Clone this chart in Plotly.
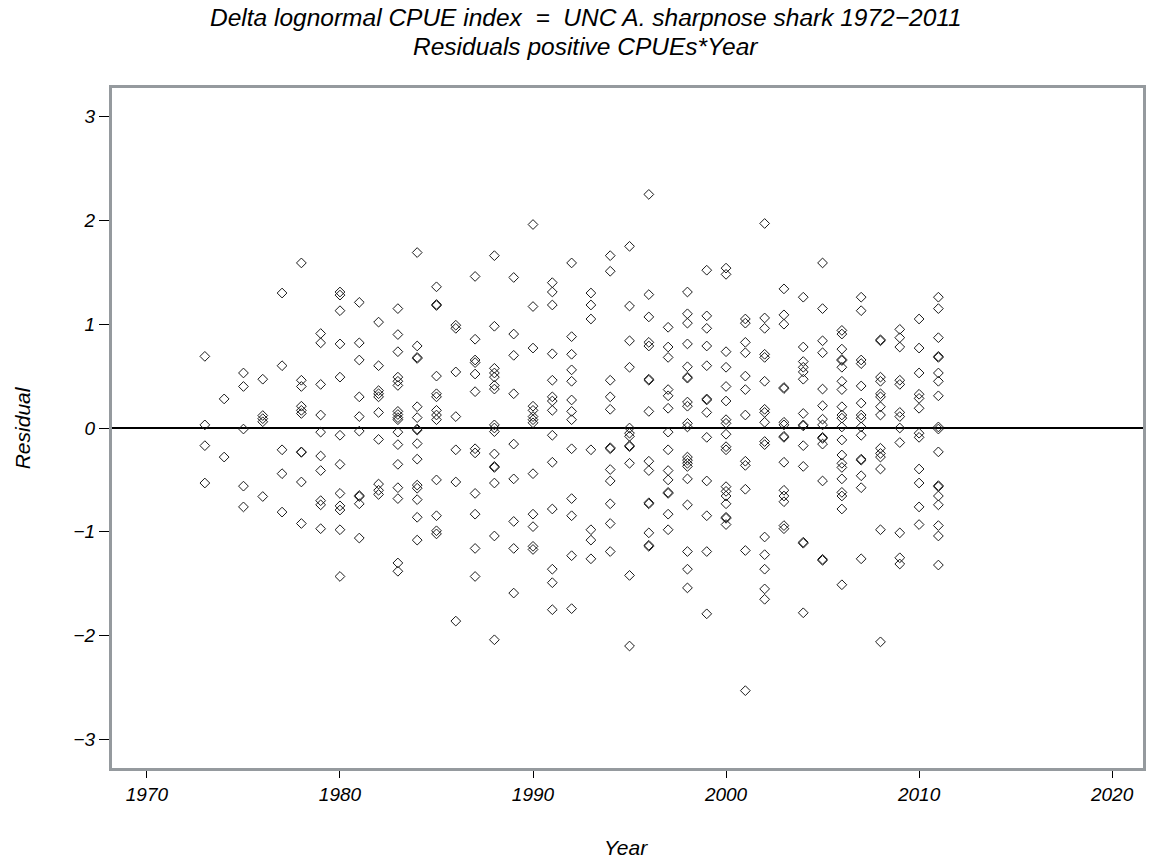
import plotly.graph_objects as go

# Residuals of positive CPUEs by year
years = list(range(1973, 2012))

r1973 = [0.69, 0.03, -0.17, -0.53]
r1974 = [0.28, -0.28]
r1975 = [0.53, 0.40, -0.01, -0.56, -0.76]
r1976 = [0.47, 0.12, 0.09, 0.06, -0.66]
r1977 = [1.30, 0.60, -0.21, -0.44, -0.81]
r1978 = [1.59, 0.46, 0.40, 0.21, 0.17, 0.14, -0.23, -0.235, -0.52, -0.92]
r1979 = [0.91, 0.82, 0.42, 0.125, -0.04, -0.27, -0.41, -0.70, -0.74, -0.97]
r1980 = [1.31, 1.28, 1.13, 0.81, 0.49, -0.07, -0.35, -0.63, -0.75, -0.79, -0.98, -1.43]
r1981 = [1.21, 0.82, 0.655, 0.30, 0.11, -0.03, -0.65, -0.66, -0.73, -1.06]
r1982 = [1.02, 0.60, 0.36, 0.33, 0.30, 0.15, -0.11, -0.54, -0.60, -0.64]
r1983 = [1.15, 0.90, 0.735, 0.49, 0.45, 0.41, 0.16, 0.13, 0.10, 0.08, -0.04, -0.16,
         -0.35, -0.575, -0.68, -1.30, -1.38]
r1984 = [1.69, 0.79, 0.68, 0.67, 0.205, 0.10, -0.01, -0.02, -0.15, -0.30, -0.55,
         -0.58, -0.69, -0.86, -1.08]
r1985 = [1.36, 1.18, 1.19, 0.50, 0.33, 0.30, 0.17, 0.125, 0.08, -0.50, -0.845, -0.99, -1.02]
r1986 = [0.99, 0.96, 0.54, 0.11, -0.21, -0.52, -1.86]
r1987 = [1.46, 0.855, 0.655, 0.63, 0.52, 0.35, -0.20, -0.24, -0.63, -0.83, -1.16, -1.43]
r1988 = [1.66, 0.98, 0.575, 0.53, 0.49, 0.41, 0.375, 0.03, 0.0, -0.035, -0.25, -0.37,
         -0.38, -0.53, -1.04, -2.04]
r1989 = [1.45, 0.905, 0.70, 0.33, -0.155, -0.49, -0.90, -1.16, -1.59]
r1990 = [1.96, 1.17, 0.77, 0.21, 0.17, 0.11, 0.08, 0.05, -0.44, -0.83, -0.95, -1.14, -1.17]
r1991 = [1.40, 1.31, 1.185, 0.715, 0.46, 0.30, 0.26, 0.17, -0.07, -0.33, -0.78, -1.36,
         -1.49, -1.75]
r1992 = [1.59, 0.88, 0.71, 0.56, 0.45, 0.27, 0.16, 0.08, -0.20, -0.68, -0.845, -1.23, -1.74]
r1993 = [1.30, 1.185, 1.05, -0.21, -0.98, -1.08, -1.26]
r1994 = [1.66, 1.51, 0.46, 0.30, 0.18, -0.19, -0.20, -0.40, -0.51, -0.73, -0.92, -1.19]
r1995 = [1.75, 1.175, 0.84, 0.585, 0.0, -0.05, -0.08, -0.17, -0.18, -0.34, -1.42, -2.10]
r1996 = [2.25, 1.285, 1.07, 0.825, 0.79, 0.46, 0.47, 0.16, -0.32, -0.41, -0.72, -0.73,
         -1.01, -1.13, -1.14]
r1997 = [0.97, 0.78, 0.68, 0.37, 0.31, 0.19, -0.04, -0.21, -0.41, -0.50, -0.62, -0.63,
         -0.83, -0.98]
r1998 = [1.31, 1.10, 1.01, 0.81, 0.59, 0.48, 0.49, 0.25, 0.21, 0.045, 0.01, -0.28, -0.31,
         -0.34, -0.37, -0.49, -0.74, -1.19, -1.36, -1.54]
r1999 = [1.52, 1.08, 0.96, 0.79, 0.60, 0.28, 0.27, 0.15, -0.09, -0.51, -0.845, -1.19, -1.79]
r2000 = [1.54, 1.48, 0.735, 0.585, 0.40, 0.26, 0.08, 0.045, -0.06, -0.18, -0.21, -0.565,
         -0.61, -0.655, -0.73, -0.86, -0.87, -0.93]
r2001 = [1.05, 1.01, 0.825, 0.725, 0.50, 0.37, 0.125, -0.32, -0.36, -0.59, -1.18, -2.53]
r2002 = [1.97, 1.06, 0.96, 0.71, 0.68, 0.45, 0.18, 0.15, 0.055, -0.13, -0.16, -1.05,
         -1.22, -1.36, -1.55, -1.65]
r2003 = [1.34, 1.09, 1.00, 0.38, 0.39, 0.055, 0.03, -0.08, -0.09, -0.33, -0.60, -0.655,
         -0.71, -0.94, -0.97]
r2004 = [1.26, 0.78, 0.64, 0.585, 0.54, 0.47, 0.14, 0.02, 0.03, -0.17, -0.37, -1.10,
         -1.11, -1.78]
r2005 = [1.59, 1.15, 0.84, 0.725, 0.375, 0.215, 0.085, 0.03, -0.09, -0.10, -0.155,
         -0.51, -1.265, -1.275]
r2006 = [0.94, 0.905, 0.76, 0.65, 0.66, 0.585, 0.45, 0.37, 0.205, 0.125, 0.095, 0.01,
         -0.115, -0.26, -0.34, -0.38, -0.49, -0.62, -0.655, -0.78, -1.51]
r2007 = [1.26, 1.13, 0.655, 0.62, 0.405, 0.24, 0.125, 0.095, 0.01, -0.07, -0.30, -0.31,
         -0.46, -0.575, -1.26]
r2008 = [0.84, 0.85, 0.49, 0.45, 0.33, 0.30, 0.205, 0.125, -0.195, -0.245, -0.28,
         -0.395, -0.98, -2.06]
r2009 = [0.95, 0.87, 0.78, 0.46, 0.42, 0.15, 0.11, 0.0, -0.14, -1.01, -1.25, -1.31]
r2010 = [1.05, 0.77, 0.53, 0.325, 0.285, 0.19, -0.05, -0.09, -0.395, -0.53, -0.76, -0.93]
r2011 = [1.26, 1.15, 0.87, 0.68, 0.69, 0.53, 0.45, 0.31, 0.01, -0.01, -0.23, -0.555,
         -0.565, -0.655, -0.74, -0.94, -1.04, -1.32]

residuals_by_year = [
    r1973, r1974, r1975, r1976, r1977, r1978, r1979, r1980, r1981, r1982,
    r1983, r1984, r1985, r1986, r1987, r1988, r1989, r1990, r1991, r1992,
    r1993, r1994, r1995, r1996, r1997, r1998, r1999, r2000, r2001, r2002,
    r2003, r2004, r2005, r2006, r2007, r2008, r2009, r2010, r2011,
]

x_ticks = [1970, 1980, 1990, 2000, 2010, 2020]
y_ticks = [-3, -2, -1, 0, 1, 2, 3]

title_line1 = "Delta lognormal CPUE index  =  UNC A. sharpnose shark 1972\u22122011"
title_line2 = "Residuals positive CPUEs*Year"

xs, ys = [], []
for yr, vals in zip(years, residuals_by_year):
    xs.extend([yr] * len(vals))
    ys.extend(vals)

FONT = "Liberation Sans, Arial, sans-serif"
FRAME = "#959a9e"

fig = go.Figure()
fig.add_trace(go.Scatter(
    x=xs, y=ys, mode="markers",
    marker=dict(symbol="diamond-open", size=7.5, color="#1a1a1a",
                line=dict(width=1, color="#1a1a1a")),
    showlegend=False, hoverinfo="x+y",
))

fig.update_layout(
    width=1150, height=867,
    margin=dict(l=112, r=4, t=88, b=99),
    paper_bgcolor="white", plot_bgcolor="white",
    font=dict(family=FONT, color="black"),
    xaxis=dict(
        range=[1968.19, 2021.6], tickvals=x_ticks,
        showgrid=False, zeroline=False,
        showline=True, mirror=True, linecolor=FRAME, linewidth=3,
        ticks="outside", ticklen=7, tickcolor="black", tickwidth=1,
        tickfont=dict(family=FONT, size=19, style="italic", color="black"),
    ),
    yaxis=dict(
        range=[-3.275, 3.275], tickvals=y_ticks,
        showgrid=False,
        zeroline=True, zerolinecolor="black", zerolinewidth=1.5,
        showline=True, mirror=True, linecolor=FRAME, linewidth=3,
        ticks="outside", ticklen=10, tickcolor="black", tickwidth=1,
        tickfont=dict(family=FONT, size=19, style="italic", color="black"),
    ),
    annotations=[
        dict(text=title_line1, xref="paper", yref="paper", x=0.4594, y=1.103,
             xanchor="center", yanchor="middle", showarrow=False,
             font=dict(family=FONT, size=24.5, style="italic", color="black")),
        dict(text=title_line2, xref="paper", yref="paper", x=0.4594, y=1.0603,
             xanchor="center", yanchor="middle", showarrow=False,
             font=dict(family=FONT, size=24.5, style="italic", color="black")),
        dict(text="Year", xref="paper", yref="paper", x=0.499, y=-0.1176,
             xanchor="center", yanchor="middle", showarrow=False,
             font=dict(family=FONT, size=21, style="italic", color="black")),
        dict(text="Residual", xref="paper", yref="paper", x=-0.087, y=0.5,
             xanchor="center", yanchor="middle", showarrow=False, textangle=-90,
             font=dict(family=FONT, size=21, style="italic", color="black")),
    ],
)

fig.write_html("out.html")
